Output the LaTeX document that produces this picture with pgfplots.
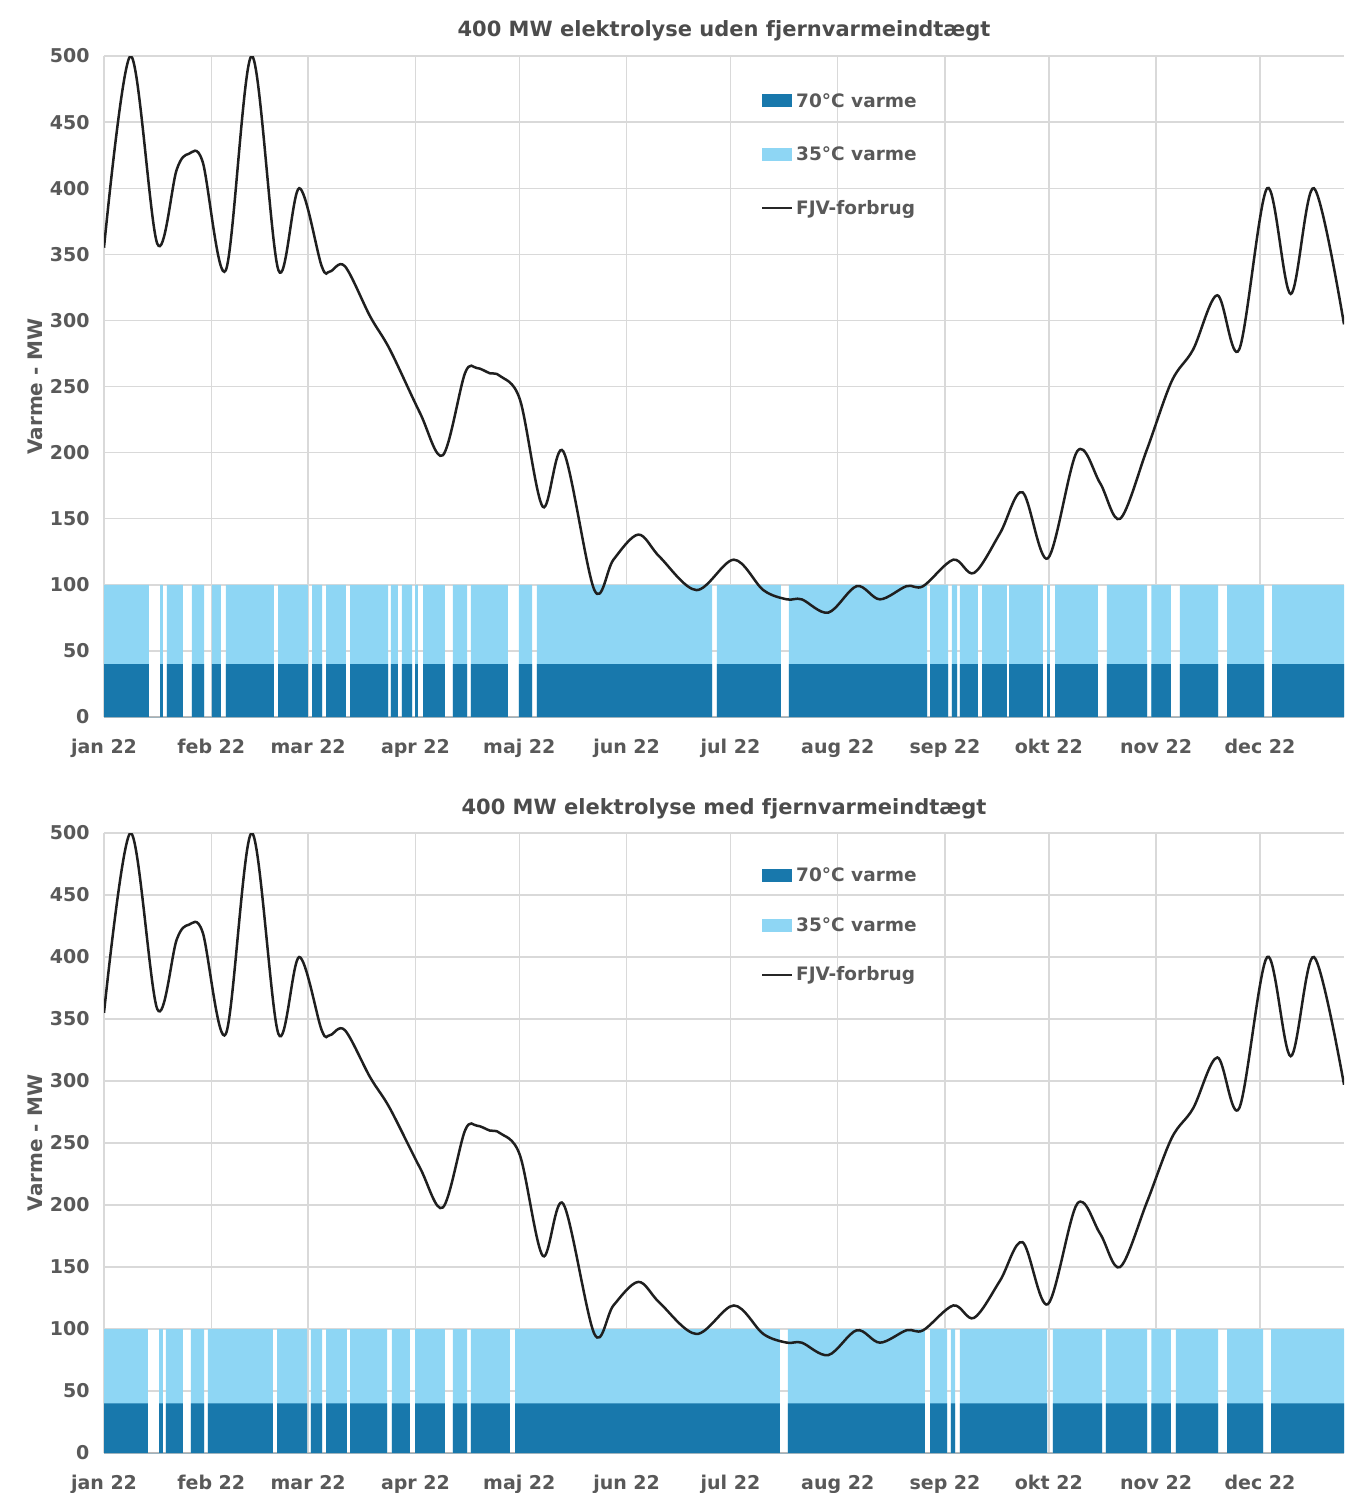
\documentclass[border=0pt]{standalone}
\usepackage{fontspec}
\setmainfont{DejaVu Sans}
\usepackage{pgfplots}
\usepackage{pgfplotstable}
\pgfplotsset{compat=1.18}

\definecolor{varmeH}{RGB}{24,120,172}
\definecolor{varmeL}{RGB}{142,214,244}
\definecolor{txt}{RGB}{89,89,89}
\definecolor{gridc}{RGB}{217,217,217}

% on/off per time: light = 35C band top, dark = 70C band top
\pgfplotstableread{
day light dark
0 100 40
13.0 0 0
16.2 100 40
17.0 0 0
18.2 100 40
22.8 0 0
25.4 100 40
28.9 0 0
31.2 100 40
33.8 0 0
35.2 100 40
49.1 0 0
50.3 100 40
58.9 0 0
60.1 100 40
63.0 0 0
64.2 100 40
69.9 0 0
71.1 100 40
82.1 0 0
82.9 100 40
84.9 0 0
86.1 100 40
89.0 0 0
89.9 100 40
90.7 0 0
92.2 100 40
98.5 0 0
100.8 100 40
104.9 0 0
106.0 100 40
116.7 0 0
119.9 100 40
123.7 0 0
125.1 100 40
175.7 0 0
177.1 100 40
195.6 0 0
197.9 100 40
237.8 0 0
238.7 100 40
243.9 0 0
245.0 100 40
246.5 0 0
247.3 100 40
252.5 0 0
253.7 100 40
260.9 0 0
261.5 100 40
271.3 0 0
272.5 100 40
273.3 0 0
274.8 100 40
287.2 0 0
289.8 100 40
301.4 0 0
302.6 100 40
308.3 0 0
310.9 100 40
321.9 0 0
324.5 100 40
335.2 0 0
337.5 100 40
360 100 40
}\uden

\pgfplotstableread{
day light dark
0 100 40
12.7 0 0
15.9 100 40
17.0 0 0
17.9 100 40
22.8 0 0
25.1 100 40
28.9 0 0
30.0 100 40
48.8 0 0
50.0 100 40
58.7 0 0
59.8 100 40
63.0 0 0
64.2 100 40
70.2 0 0
71.1 100 40
81.8 0 0
83.2 100 40
88.4 0 0
89.9 100 40
98.5 0 0
100.8 100 40
104.9 0 0
106.0 100 40
117.3 0 0
118.8 100 40
195.3 0 0
197.6 100 40
237.2 0 0
238.7 100 40
243.6 0 0
244.7 100 40
245.9 0 0
247.3 100 40
272.5 0 0
274.2 100 40
288.4 0 0
289.5 100 40
301.4 0 0
302.6 100 40
308.3 0 0
309.7 100 40
321.9 0 0
324.5 100 40
334.9 0 0
337.2 100 40
360 100 40
}\med

\pgfplotstableread{
day fjv
0 355
7.7 500
15.4 358
21.0 414
24.5 426
28.5 420
35.2 338
42.7 500
50.4 338
56.4 400
62.9 341
65.3 337
69.6 341
76.9 303
82.6 278
91.3 230
97.9 198
104.3 260
107.7 264
111.5 260
114.4 258
120.2 240
126.8 159
132.7 201
141.7 96
147.2 119
154.4 138
160.6 121
171.2 96
182.0 119
190.5 96
197.3 89
201.6 89
209.3 79
217.5 99
224.2 89
231.9 99
236.7 99
245.4 119
251.4 109
258.9 139
265.4 170
272.7 120
281.2 201
287.8 177
293.6 150
301.3 202
308.5 254
314.7 278
321.7 319
328.0 278
336.1 400
342.9 320
349.6 400
358.3 297
}\fjv

\pgfplotsset{
  varme patch/.style={legend image code/.code={\fill[##1, draw=none] (0pt,-6.5pt) rectangle (30pt,6.5pt);}},
  varme line/.style={legend image code/.code={\draw[##1] (0pt,0pt) -- (30pt,0pt);}},
  panel/.style={
    scale only axis, width=1240pt,
    xmin=0, xmax=358.3, ymin=0, ymax=500,
    xtick={0,31,59,90,120,151,181,212,243,273,304,334},
    xticklabels={jan 22,feb 22,mar 22,apr 22,maj 22,jun 22,jul 22,aug 22,sep 22,okt 22,nov 22,dec 22},
    ytick={0,50,...,500},
    grid=major, major grid style={gridc, line width=1.4pt},
    major tick length=0pt,
    axis x line*=bottom, axis y line*=left,
    y axis line style={draw=none},
    x axis line style={draw=gray!55, line width=1.4pt},
    /pgf/number format/assume math mode=true,
    ticklabel style={font=\fontsize{19}{23}\selectfont\bfseries, text=txt},
    xticklabel style={yshift=-19pt},
    yticklabel style={xshift=-11pt},
    ylabel={Varme - MW},
    ylabel style={at={(axis description cs:-0.0556,0.5)}, anchor=center,
      font=\fontsize{20}{24}\selectfont\bfseries, text=txt},
    title style={at={(0.5,1)}, anchor=base, font=\fontsize{21}{25}\selectfont\bfseries, text=txt!85!black},
    legend cell align=left,
    legend style={anchor=north west, draw=none, fill=none,
      font=\fontsize{18.5}{22}\selectfont\bfseries, text=txt,
      nodes={inner sep=0pt},
      /tikz/every odd column/.append style={column sep=3pt}},
  }
}

\begin{document}
\begin{tikzpicture}
\useasboundingbox (0,0) rectangle (1344pt,-1493pt);

\begin{axis}[panel, at={(104pt,-717pt)}, anchor=south west, height=661pt,
  title={400 MW elektrolyse uden fjernvarmeindtægt}, title style={yshift=14pt},
  legend style={at={(axis description cs:0.5274,0.947)}, row sep=38pt}]
  \addlegendimage{varme patch, fill=varmeH}
  \addlegendentry{70°C varme}
  \addlegendimage{varme patch, fill=varmeL}
  \addlegendentry{35°C varme}
  \addlegendimage{varme line, draw=black!85, line width=2pt}
  \addlegendentry{FJV-forbrug}
  \addplot[const plot, fill=varmeL, draw=none, forget plot] table[x=day, y=light] {\uden} \closedcycle;
  \addplot[const plot, fill=varmeH, draw=none, forget plot] table[x=day, y=dark] {\uden} \closedcycle;
  \addplot[smooth, tension=0.55, draw=black!88, line width=2.5pt, forget plot] table[x=day, y=fjv] {\fjv};
\end{axis}

\begin{axis}[panel, at={(104pt,-1453pt)}, anchor=south west, height=620pt,
  title={400 MW elektrolyse med fjernvarmeindtægt}, title style={yshift=13pt},
  legend style={at={(axis description cs:0.5274,0.947)}, row sep=34pt}]
  \addlegendimage{varme patch, fill=varmeH}
  \addlegendentry{70°C varme}
  \addlegendimage{varme patch, fill=varmeL}
  \addlegendentry{35°C varme}
  \addlegendimage{varme line, draw=black!85, line width=2pt}
  \addlegendentry{FJV-forbrug}
  \addplot[const plot, fill=varmeL, draw=none, forget plot] table[x=day, y=light] {\med} \closedcycle;
  \addplot[const plot, fill=varmeH, draw=none, forget plot] table[x=day, y=dark] {\med} \closedcycle;
  \addplot[smooth, tension=0.55, draw=black!88, line width=2.5pt, forget plot] table[x=day, y=fjv] {\fjv};
\end{axis}
\end{tikzpicture}
\end{document}
